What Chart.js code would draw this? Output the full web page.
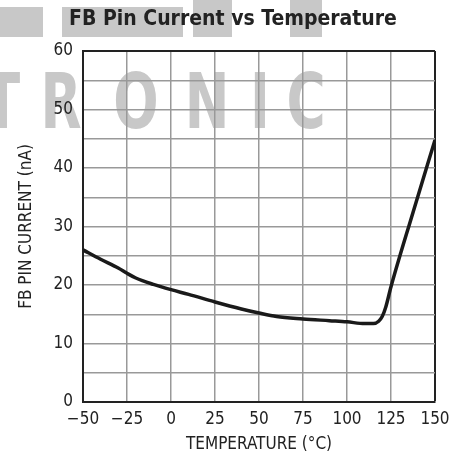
<!DOCTYPE html>
<html>
<head>
<meta charset="utf-8">
<script src="https://cdn.jsdelivr.net/npm/chart.js@4"></script>
<style>
  html, body { margin: 0; padding: 0; background: #fff; }
  #wrap { width: 466px; height: 458px; }
</style>
</head>
<body>
<div id="wrap"><canvas id="fbChart" width="466" height="458"></canvas></div>
<script>
// values
const temps = [-50, -40, -30, -25, -20, -10, 0, 10, 25, 40, 50, 60, 75, 90, 100, 110, 115, 118, 120, 122, 125, 137.5, 150];
const current = [26.0, 24.4, 22.9, 22.0, 21.2, 20.1, 19.2, 18.4, 17.1, 15.9, 15.2, 14.6, 14.2, 13.9, 13.7, 13.4, 13.4, 13.8, 14.6, 16.2, 19.7, 32.4, 44.8];

const xTicks = [-50, -25, 0, 25, 50, 75, 100, 125, 150];
const xTickLabels = ['\u221250', '\u221225', '0', '25', '50', '75', '100', '125', '150'];
const yTickLabels = ['0', '10', '20', '30', '40', '50', '60'];

const narrow = "'Liberation Sans Narrow', 'DejaVu Sans Condensed', Arial, sans-serif";

/* background watermark */
const watermark = {
    id: 'watermark',
    beforeDraw(chart) {
        const c = chart.ctx;
        c.save();
        c.fillStyle = '#c8c8c8';
        c.fillRect(0, 7, 43, 30);
        c.fillRect(62, 7, 121, 30);
        c.fillRect(193, 0, 39, 37);
        c.fillRect(290, 0, 32, 37);
        c.scale(0.78, 1);
        c.font = 'bold 76px ' + narrow;
        c.textAlign = 'center';
        c.textBaseline = 'alphabetic';
        [['T', 2], ['R', 61], ['O', 136], ['N', 207], ['I', 260], ['C', 306]].forEach(function (l) {
            c.fillText(l[0], l[1] / 0.78, 128);
        });
        c.restore();
    }
};

const ctx = document.getElementById('fbChart').getContext('2d');

new Chart(ctx, {
    type: 'line',
    data: {
        datasets: [{
            data: temps.map((t, i) => ({ x: t, y: current[i] })),
            borderColor: '#1a1a1a',
            borderWidth: 3.5,
            pointRadius: 0,
            cubicInterpolationMode: 'monotone',
            fill: false
        }]
    },
    options: {
        responsive: false,
        animation: false,
        layout: { padding: 0 },
        plugins: {
            legend: { display: false },
            tooltip: { enabled: false },
            title: {
                display: true,
                text: 'FB Pin Current vs Temperature',
                color: '#222',
                font: { family: narrow, size: 21, weight: 'bold' },
                padding: { top: 7, bottom: 18.8 }
            }
        },
        scales: {
            x: {
                type: 'linear',
                min: -50,
                max: 150,
                afterBuildTicks: (s) => { s.ticks = xTicks.map(v => ({ value: v })); },
                afterFit: (s) => { s.height = 56; },
                ticks: {
                    color: '#222',
                    font: { family: narrow, size: 17 },
                    padding: 7,
                    maxRotation: 0,
                    callback: (v) => xTickLabels[xTicks.indexOf(v)]
                },
                grid: {
                    drawTicks: false,
                    color: (c) => c.tick && c.tick.value === 150 ? '#222' : '#999',
                    lineWidth: (c) => c.tick && c.tick.value === 150 ? 2 : 1.5
                },
                border: { color: '#222', width: 2 },
                title: {
                    display: true,
                    text: 'TEMPERATURE (\u00B0C)',
                    color: '#222',
                    font: { family: narrow, size: 17 },
                    padding: { top: 0, bottom: 3 }
                }
            },
            y: {
                min: 0,
                max: 60,
                afterFit: (s) => { s.width = 83; },
                ticks: {
                    stepSize: 5,
                    color: '#222',
                    font: { family: narrow, size: 17 },
                    padding: 10,
                    callback: (v) => v % 10 === 0 ? yTickLabels[v / 10] : ''
                },
                grid: {
                    drawTicks: false,
                    color: (c) => c.tick && c.tick.value === 60 ? '#222' : '#999',
                    lineWidth: (c) => c.tick && c.tick.value === 60 ? 2 : 1.5
                },
                border: { color: '#222', width: 2 },
                title: {
                    display: true,
                    text: 'FB PIN CURRENT (nA)',
                    color: '#222',
                    font: { family: narrow, size: 17 },
                    padding: { top: 16, bottom: 0 }
                }
            },
            // empty right-hand spacer so the title stays centred on the page
            yRight: {
                position: 'right',
                min: 0,
                max: 60,
                afterFit: (s) => { s.width = 31; },
                ticks: { display: false },
                grid: { display: false },
                border: { display: false }
            }
        }
    },
    plugins: [watermark]
});
</script>
</body>
</html>
